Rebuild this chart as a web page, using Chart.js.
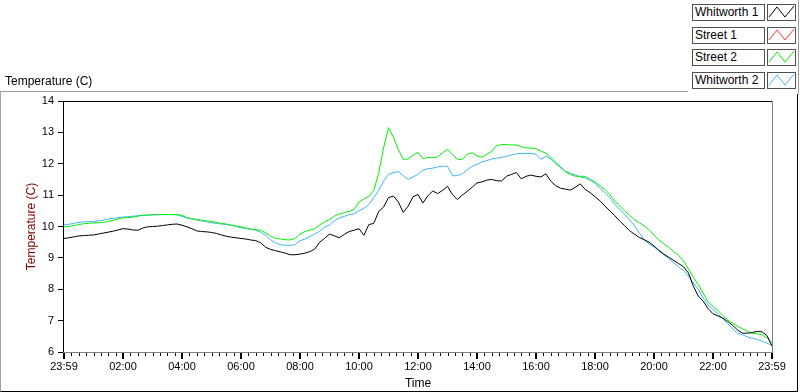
<!DOCTYPE html>
<html><head><meta charset="utf-8">
<script src="https://cdn.jsdelivr.net/npm/chart.js@4"></script>
<style>
html,body{margin:0;padding:0;background:#fff;}
#wrap{position:relative;width:800px;height:392px;overflow:hidden;font-family:"Liberation Sans",Arial,sans-serif;font-size:12px;color:#000;}
#c{position:absolute;left:0;top:0;}
.frame{position:absolute;left:0;top:91px;width:798px;height:301px;box-sizing:border-box;border-left:1px solid #a0a0a0;border-top:1px solid #a0a0a0;border-bottom:1px solid #000;border-right:1px solid #000;}
.toplab{position:absolute;left:5px;top:74px;white-space:nowrap;}
.legcol{position:absolute;left:688px;top:0;width:110px;height:94px;background:#fff;border-right:1px solid #a0a0a0;}
.lab{position:absolute;left:692px;width:69px;height:15px;border:1px solid #505050;background:#fff;line-height:15px;padding-left:2px;white-space:nowrap;overflow:hidden;}
.ico{position:absolute;left:767px;width:27px;height:15px;border:1px solid #505050;background:#fff;}
.ico svg{position:absolute;left:0;top:0;}
</style></head>
<body><div id="wrap">
<canvas id="c" width="800" height="392"></canvas>
<div class="frame"></div>
<div class="toplab">Temperature (C)</div>
<div class="legcol"></div>
<div id="legend"></div>
</div>
<script>
// ---- data ----
const STEP_MIN = 10;            // sampling interval of the series (minutes)
const seriesNames = ['Whitworth 1', 'Street 1', 'Street 2', 'Whitworth 2'];
const seriesColors = ['#000000', '#ff3030', '#00f000', '#3cb4ff'];
const xTickLabels = ['23:59','02:00','04:00','06:00','08:00','10:00','12:00','14:00','16:00','18:00','20:00','22:00','23:59'];
const yMin = 6, yMax = 14;

const whitworth1 = [9.62,9.64,9.67,9.70,9.71,9.72,9.73,9.76,9.79,9.82,
 9.85,9.89,9.93,9.92,9.89,9.88,9.95,9.99,10.00,10.01,
 10.03,10.05,10.07,10.08,10.04,9.99,9.93,9.86,9.84,9.83,
 9.81,9.78,9.73,9.69,9.66,9.64,9.62,9.60,9.57,9.55,
 9.48,9.34,9.27,9.23,9.19,9.15,9.10,9.10,9.12,9.15,
 9.20,9.28,9.50,9.62,9.76,9.70,9.64,9.75,9.84,9.88,
 9.93,9.72,10.06,10.10,10.48,10.62,10.92,10.97,10.78,10.45,
 10.65,10.95,11.02,10.75,10.98,11.13,11.05,11.15,11.28,11.02,
 10.86,11.00,11.12,11.25,11.39,11.42,11.48,11.50,11.46,11.45,
 11.60,11.66,11.72,11.52,11.60,11.64,11.60,11.58,11.68,11.45,
 11.30,11.22,11.19,11.16,11.25,11.36,11.18,11.08,10.95,10.82,
 10.66,10.50,10.35,10.18,10.03,9.87,9.76,9.65,9.58,9.50,
 9.38,9.24,9.12,9.02,8.92,8.82,8.72,8.52,8.10,7.78,
 7.62,7.38,7.22,7.15,7.08,6.97,6.85,6.70,6.60,6.60,
 6.62,6.66,6.64,6.52,6.19];
const street1 = [];
const street2 = [9.99,10.00,10.03,10.06,10.09,10.10,10.12,10.12,10.13,10.16,
 10.20,10.24,10.28,10.28,10.30,10.33,10.36,10.36,10.38,10.38,
 10.38,10.38,10.38,10.38,10.36,10.28,10.25,10.22,10.20,10.18,
 10.16,10.13,10.10,10.08,10.04,10.01,9.99,9.95,9.91,9.90,
 9.88,9.80,9.70,9.62,9.60,9.58,9.57,9.62,9.76,9.84,
 9.88,9.93,10.05,10.15,10.22,10.33,10.40,10.44,10.48,10.55,
 10.78,10.88,10.96,11.15,11.70,12.51,13.15,12.85,12.45,12.14,
 12.15,12.28,12.36,12.16,12.20,12.19,12.22,12.35,12.46,12.30,
 12.14,12.14,12.30,12.35,12.25,12.21,12.30,12.40,12.58,12.61,
 12.61,12.60,12.60,12.54,12.51,12.50,12.48,12.40,12.34,12.20,
 12.05,11.90,11.74,11.66,11.60,11.60,11.60,11.50,11.42,11.30,
 11.18,11.02,10.82,10.66,10.50,10.36,10.22,10.12,10.02,9.90,
 9.72,9.57,9.45,9.34,9.20,9.08,8.90,8.65,8.38,8.15,
 7.88,7.60,7.45,7.32,7.16,7.02,6.92,6.82,6.74,6.66,
 6.60,6.58,6.55,6.45,6.30];
const whitworth2 = [10.05,10.07,10.10,10.13,10.15,10.15,10.16,10.18,10.20,10.24,
 10.26,10.28,10.30,10.31,10.33,10.34,10.35,10.36,10.37,10.38,
 10.38,10.38,10.38,10.37,10.32,10.27,10.24,10.21,10.18,10.15,
 10.12,10.10,10.08,10.06,10.04,10.00,9.96,9.94,9.92,9.88,
 9.82,9.72,9.58,9.48,9.42,9.40,9.40,9.42,9.55,9.60,
 9.68,9.76,9.85,9.98,10.05,10.18,10.28,10.32,10.38,10.40,
 10.50,10.58,10.70,10.92,11.15,11.45,11.66,11.72,11.75,11.62,
 11.50,11.58,11.66,11.80,11.84,11.86,11.90,11.92,11.92,11.62,
 11.62,11.68,11.80,11.92,11.98,12.06,12.10,12.15,12.18,12.20,
 12.24,12.28,12.32,12.33,12.33,12.33,12.30,12.14,12.24,12.15,
 12.00,11.88,11.76,11.70,11.64,11.58,11.55,11.48,11.38,11.22,
 11.08,10.92,10.72,10.55,10.40,10.22,10.03,9.80,9.57,9.44,
 9.35,9.22,9.10,8.98,8.85,8.72,8.60,8.42,8.20,8.00,
 7.72,7.50,7.35,7.22,7.05,6.90,6.74,6.60,6.55,6.48,
 6.44,6.40,6.34,6.28,6.21];

const X_MIN = 0, X_MAX = 1440, MINOR_STEP = 15, MAJOR_STEP = 120;
const FONT = '"Liberation Sans", Arial, sans-serif';

function toPoints(arr){ return arr.map((v,i)=>({x:i*STEP_MIN, y:v})); }
const seriesData = [whitworth1, street1, street2, whitworth2];

// ---- legend (HTML) ----
const leg = document.getElementById('legend');
seriesNames.forEach((n,i)=>{
  const top = 4 + i*22.7;
  const l = document.createElement('div'); l.className='lab'; l.style.top=top+'px'; l.textContent=n; leg.appendChild(l);
  const ic = document.createElement('div'); ic.className='ico'; ic.style.top=top+'px';
  ic.innerHTML = '<svg width="27" height="15"><polyline points="1,12 9,2 17,12 26,1" fill="none" stroke="'+seriesColors[i]+'" stroke-width="1"/></svg>';
  leg.appendChild(ic);
});

// ---- ticks & frame plugin ----
const frameTicks = {
  id:'frameTicks',
  afterDraw(chart){
    const {ctx, chartArea:a, scales:{x}} = chart;
    ctx.save();
    ctx.fillStyle = '#000';
    for (let m = X_MIN; m <= X_MAX; m += MINOR_STEP) {
      const px = Math.round(x.getPixelForValue(m));
      const major = m % MAJOR_STEP === 0;
      if (major) ctx.fillRect(px-1, a.bottom+1, 2, 6);
      else ctx.fillRect(px, a.bottom+1, 1, 3);
    }
    ctx.fillStyle = '#000';
    ctx.fillRect(a.left-1, a.top, a.right-a.left+1, 1);
    ctx.fillRect(a.left-1, a.top, 1, a.bottom-a.top+1);
    ctx.fillStyle = '#808080';
    ctx.fillRect(a.right, a.top, 1, a.bottom-a.top+1);
    ctx.fillRect(a.left-1, a.bottom, a.right-a.left+2, 1);
    ctx.restore();
  }
};

new Chart(document.getElementById('c'), {
  type:'line',
  data:{
    datasets: seriesNames.map((n,i)=>({
      label:n, data:toPoints(seriesData[i]), borderColor:seriesColors[i],
      borderWidth:1, pointRadius:0, tension:0, fill:false
    }))
  },
  options:{
    responsive:false, animation:false,
    layout:{padding:{top:101,right:28,left:0,bottom:0}},
    plugins:{legend:{display:false}, tooltip:{enabled:false}},
    scales:{
      x:{
        type:'linear', min:X_MIN, max:X_MAX,
        afterFit(s){ s.height = 40; },
        afterBuildTicks(s){ const t=[]; for(let m=X_MIN;m<=X_MAX;m+=MINOR_STEP) t.push({value:m}); s.ticks=t; },
        ticks:{autoSkip:false, maxRotation:0, minRotation:0, padding:3, color:'#000',
          font:{family:FONT,size:11},
          callback(v){ return v % MAJOR_STEP === 0 ? xTickLabels[v/MAJOR_STEP] : ''; }},
        grid:{display:true, drawOnChartArea:false, drawTicks:true, tickLength:5, color:'rgba(0,0,0,0)'},
        border:{display:false},
        title:{display:true, text:'Time', color:'#000', font:{family:FONT,size:12}, padding:{top:0,bottom:1}}
      },
      y:{
        min:yMin, max:yMax,
        afterFit(s){ s.width = 64; },
        ticks:{stepSize:1, padding:4, color:'#000', font:{family:FONT,size:11}},
        grid:{display:true, drawOnChartArea:false, drawTicks:true, tickLength:6, color:'#000'},
        border:{display:false},
        title:{display:true, text:'Temperature (C)', color:'#800000', font:{family:FONT,size:12}, padding:{top:24,bottom:0}}
      }
    }
  },
  plugins:[frameTicks]
});
</script>
</body></html>
